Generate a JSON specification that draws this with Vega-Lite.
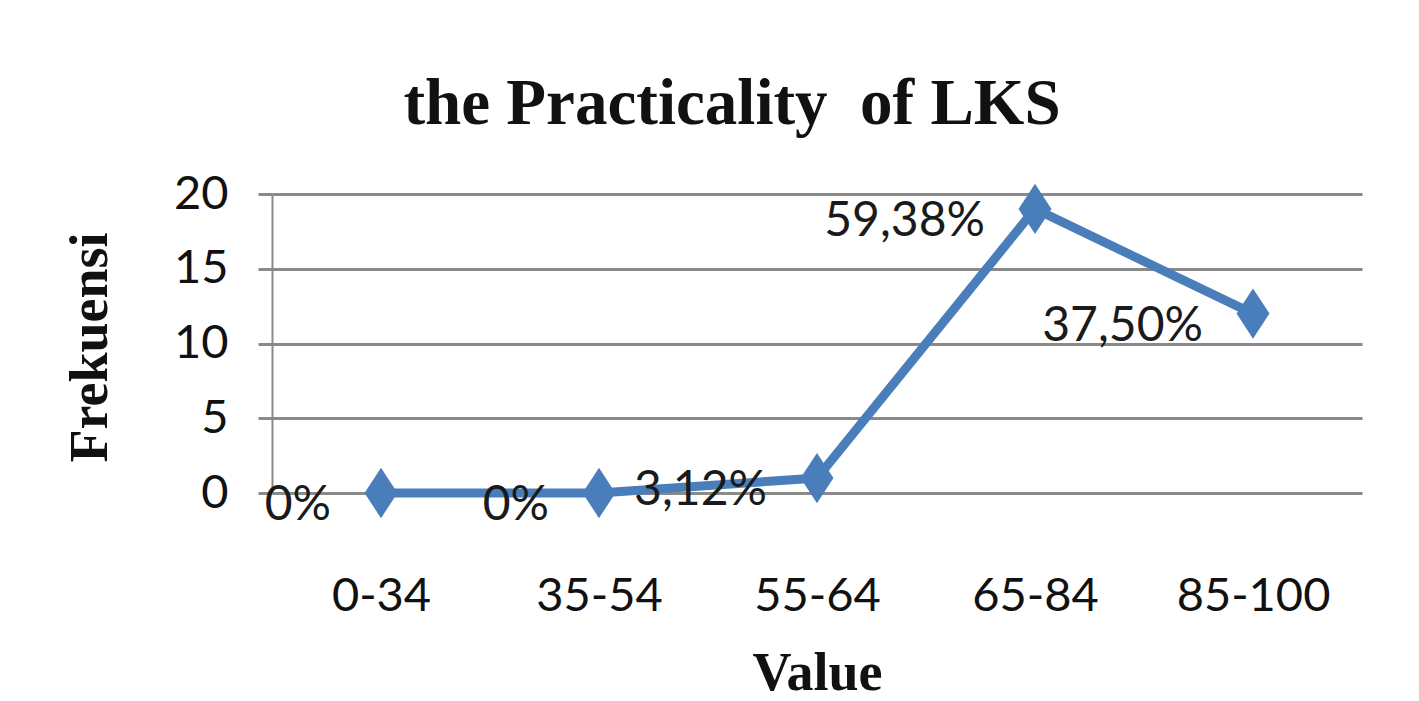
{
  "$schema": "https://vega.github.io/schema/vega-lite/v6.json",
  "width": 1090,
  "height": 299,
  "autosize": {"type": "none"},
  "padding": {"left": 272, "top": 194, "right": 57, "bottom": 208},
  "background": "white",
  "title": {
    "text": "the Practicality\u00a0 of LKS",
    "font": "Liberation Serif",
    "fontWeight": "bold",
    "fontSize": 65,
    "color": "#111111",
    "anchor": "middle",
    "frame": "group",
    "dx": -85,
    "offset": 32
  },
  "data": {
    "values": [
      {"range": "0-34", "freq": 0, "pct": "0%"},
      {"range": "35-54", "freq": 0, "pct": "0%"},
      {"range": "55-64", "freq": 1, "pct": "3,12%"},
      {"range": "65-84", "freq": 19, "pct": "59,38%"},
      {"range": "85-100", "freq": 12, "pct": "37,50%"}
    ]
  },
  "encoding": {
    "x": {
      "field": "range",
      "type": "ordinal",
      "sort": null,
      "scale": {"type": "point", "padding": 0.5},
      "axis": {
        "title": "Value",
        "titleFont": "Liberation Serif",
        "titleFontWeight": "bold",
        "titleFontSize": 54,
        "titleColor": "#111111",
        "titleBaseline": "alphabetic",
        "titleY": 196,
        "labelAngle": 0,
        "labelFont": "Lato",
        "labelFontSize": 47,
        "labelColor": "#111111",
        "labelPadding": 80,
        "domain": false,
        "ticks": false,
        "grid": false
      }
    },
    "y": {
      "field": "freq",
      "type": "quantitative",
      "scale": {"domain": [0, 20], "nice": false},
      "axis": {
        "values": [0, 5, 10, 15, 20],
        "title": "Frekuensi",
        "titleFont": "Liberation Serif",
        "titleFontWeight": "bold",
        "titleFontSize": 54,
        "titleColor": "#111111",
        "titleAngle": -90,
        "titleX": -182,
        "titleY": 153,
        "titleAlign": "center",
        "titleBaseline": "middle",
        "labelFont": "Lato",
        "labelFontSize": 47,
        "labelColor": "#111111",
        "labelPadding": 30,
        "tickSize": 14,
        "tickColor": "#8a8a8a",
        "tickWidth": 3,
        "domainColor": "#8a8a8a",
        "domainWidth": 2,
        "gridColor": "#8a8a8a",
        "gridWidth": 3,
        "gridOpacity": 1
      }
    }
  },
  "layer": [
    {
      "mark": {"type": "line", "color": "#4a7ebb", "strokeWidth": 9, "strokeJoin": "miter"}
    },
    {
      "mark": {
        "type": "point",
        "shape": "M0,-1.3L0.85,0L0,1.3L-0.85,0Z",
        "size": 1500,
        "filled": true,
        "color": "#4a7ebb",
        "opacity": 1
      }
    },
    {
      "mark": {
        "type": "text",
        "align": "right",
        "baseline": "middle",
        "dx": -50,
        "dy": 13,
        "font": "Lato",
        "fontSize": 48,
        "color": "#1a1a1a"
      },
      "encoding": {"text": {"field": "pct"}}
    }
  ],
  "config": {
    "view": {"stroke": null}
  }
}
